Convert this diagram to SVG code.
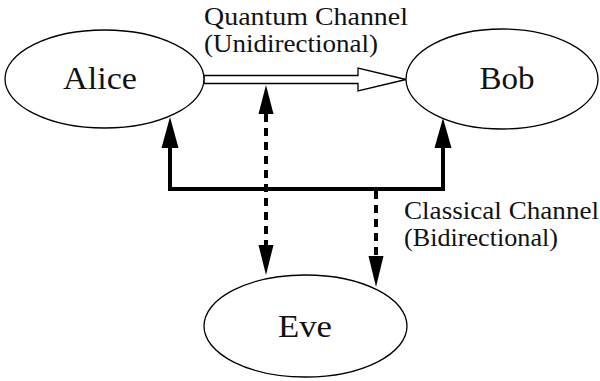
<svg xmlns="http://www.w3.org/2000/svg" width="600" height="381" viewBox="0 0 600 381">
<style>
.node{fill:#fff;stroke:#000;stroke-width:1.3}
.name{font-family:"Liberation Serif","Times New Roman",serif;font-size:31px;fill:#111;text-anchor:middle}
.lbl{font-family:"Liberation Serif","Times New Roman",serif;font-size:26px;fill:#111}
.thick{fill:none;stroke:#000;stroke-width:4;stroke-linejoin:miter}
.dash{fill:none;stroke:#000;stroke-width:4;stroke-dasharray:8 6}
.head{fill:#000;stroke:none}
</style>
<rect width="600" height="381" fill="#fff"/>
<g id="connectors">
  <polygon points="204,75.5 358,75.5 358,68 406,79.5 358,91 358,83.5 204,83.5" fill="#fff" stroke="#000" stroke-width="1.3" stroke-linejoin="miter"/>
  <polyline class="thick" points="170,146 170,189 443,189 443,146"/>
  <polygon class="head" points="170,117 161.5,148 178.5,148"/>
  <polygon class="head" points="443,118 434.5,148 451.5,148"/>
  <line class="dash" x1="266" y1="114" x2="266" y2="246"/>
  <polygon class="head" points="266,85 258.5,114 273.5,114"/>
  <polygon class="head" points="266,275 258.5,245 273.5,245"/>
  <line class="dash" x1="376" y1="191" x2="376" y2="257"/>
  <polygon class="head" points="376,287 368.5,256 383.5,256"/>
</g>
<g id="alice">
  <ellipse class="node" cx="104.5" cy="79" rx="99.5" ry="49"/>
  <text class="name" x="100" y="89" textLength="74" lengthAdjust="spacingAndGlyphs">Alice</text>
</g>
<g id="bob">
  <ellipse class="node" cx="502" cy="79" rx="96" ry="50"/>
  <text class="name" x="507" y="89" textLength="55" lengthAdjust="spacingAndGlyphs">Bob</text>
</g>
<g id="eve">
  <ellipse class="node" cx="305.5" cy="326" rx="101.5" ry="51"/>
  <text class="name" x="305" y="337" textLength="54" lengthAdjust="spacingAndGlyphs">Eve</text>
</g>
<g id="labels">
  <text class="lbl"><tspan x="204" y="25" textLength="204" lengthAdjust="spacingAndGlyphs">Quantum Channel</tspan><tspan x="204" y="52" textLength="174" lengthAdjust="spacingAndGlyphs">(Unidirectional)</tspan></text>
  <text class="lbl"><tspan x="404" y="219" textLength="195" lengthAdjust="spacingAndGlyphs">Classical Channel</tspan><tspan x="404" y="246" textLength="154" lengthAdjust="spacingAndGlyphs">(Bidirectional)</tspan></text>
</g>
</svg>
